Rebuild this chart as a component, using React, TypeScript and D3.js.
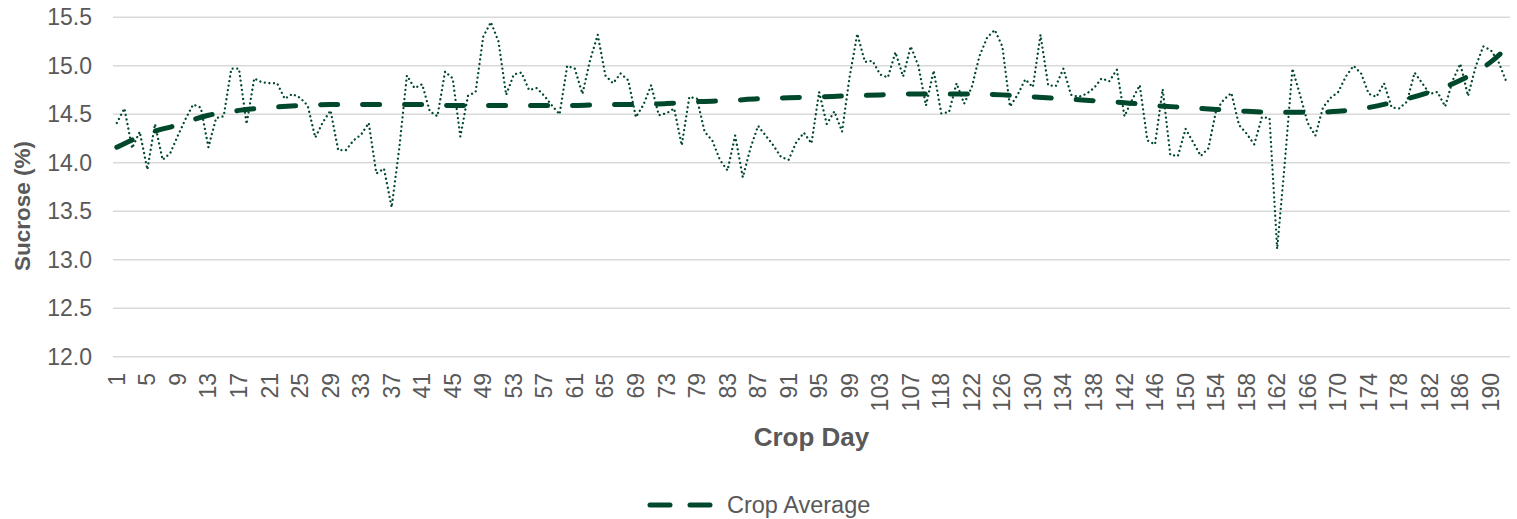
import React from 'react';
import * as d3 from 'd3';

// crop days on the x axis (the sheet skips a few days)
const days: number[] = [
  ...d3.range(1, 74), 74, 75, 76, ...d3.range(79, 108), 108, 109, 110, ...d3.range(118, 193),
];

// daily sucrose readings (%)
const sucrose = [
  14.41, 14.56, 14.15, 14.32, 13.93, 14.40, 14.03, 14.10, 14.28, 14.45,
  14.60, 14.57, 14.16, 14.46, 14.48, 14.97, 14.97, 14.40, 14.87, 14.83,
  14.82, 14.82, 14.66, 14.71, 14.67, 14.59, 14.26, 14.42, 14.54, 14.13,
  14.13, 14.23, 14.29, 14.41, 13.89, 13.94, 13.54, 14.15, 14.90, 14.77,
  14.81, 14.53, 14.48, 14.94, 14.87, 14.27, 14.69, 14.73, 15.30, 15.45,
  15.25, 14.70, 14.91, 14.93, 14.75, 14.77, 14.69, 14.59, 14.50, 15.00,
  14.97, 14.71, 15.06, 15.32, 14.90, 14.82, 14.92, 14.85, 14.47, 14.60,
  14.80, 14.49, 14.51, 14.56, 14.18, 14.68, 14.66, 14.32, 14.23, 14.03,
  13.92, 14.28, 13.85, 14.15, 14.38, 14.28, 14.18, 14.06, 14.03, 14.21,
  14.31, 14.20, 14.73, 14.40, 14.53, 14.32, 14.89, 15.33, 15.04, 15.05,
  14.91, 14.88, 15.14, 14.89, 15.20, 15.00, 14.59, 14.95, 14.51, 14.52,
  14.82, 14.61, 14.78, 15.10, 15.29, 15.37, 15.20, 14.58, 14.70, 14.86,
  14.78, 15.32, 14.80, 14.79, 14.97, 14.70, 14.68, 14.71, 14.77, 14.87,
  14.84, 14.96, 14.48, 14.65, 14.80, 14.23, 14.19, 14.76, 14.08, 14.07,
  14.35, 14.21, 14.07, 14.15, 14.54, 14.65, 14.72, 14.39, 14.30, 14.19,
  14.47, 14.46, 13.11, 14.00, 14.97, 14.70, 14.41, 14.28, 14.57, 14.67,
  14.73, 14.89, 15.00, 14.92, 14.71, 14.68, 14.82, 14.57, 14.56, 14.63,
  14.93, 14.82, 14.71, 14.73, 14.58, 14.85, 15.02, 14.69, 14.99, 15.20,
  15.16, 15.04, 14.84,
];

// crop average curve, read at every labelled day
const avgDays = [
  1, 5, 9, 13, 17, 21, 25, 29, 33, 37, 41, 45, 49, 53, 57, 61, 65, 69, 73,
  79, 83, 87, 91, 95, 99, 103, 107, 118, 122, 126, 130, 134, 138, 142, 146,
  150, 154, 158, 162, 166, 170, 174, 178, 182, 186, 190, 192,
];
const avgValues = [
  14.16, 14.30, 14.39, 14.49, 14.54, 14.57, 14.59, 14.60, 14.60, 14.60,
  14.60, 14.59, 14.59, 14.59, 14.59, 14.59, 14.60, 14.60, 14.61, 14.63,
  14.64, 14.66, 14.67, 14.68, 14.69, 14.70, 14.71, 14.71, 14.71, 14.70,
  14.68, 14.66, 14.64, 14.62, 14.59, 14.57, 14.55, 14.53, 14.52, 14.52,
  14.53, 14.57, 14.64, 14.73, 14.85, 15.04, 15.18,
];

const yTicks = [12, 12.5, 13, 13.5, 14, 14.5, 15, 15.5];

const green = '#00482b';
const grey = '#595959';
const font = 'Liberation Sans, Arial, sans-serif';

export default function App() {
  const W = 1517, H = 519;
  const left = 113, right = 1510, top = 17.3, bottom = 356.7;

  const x = d3.scaleBand<number>().domain(days).range([left, right]).padding(0);
  const cx = (d: number) => (x(d) as number) + x.bandwidth() / 2;
  const y = d3.scaleLinear().domain([12, 15.5]).range([bottom, top]);

  const rawLine = d3.line<number>()
    .x((_, i) => cx(days[i]))
    .y(d => y(d));

  const avgLine = d3.line<number>()
    .x((_, i) => cx(avgDays[i]))
    .y(d => y(d))
    .curve(d3.curveMonotoneX);

  const labelDays = days.filter((_, i) => i % 4 === 0);

  return (
    <div style={{ position: 'absolute', left: 0, top: 0 }}>
      <svg width={W} height={H} style={{ display: 'block', background: '#fff' }} fontFamily={font}>
        {yTicks.map(t => (
          <g key={t}>
            <line x1={left} x2={right} y1={y(t)} y2={y(t)} stroke="#d9d9d9" strokeWidth={1.5} />
            <text x={92} y={y(t)} dy="0.35em" textAnchor="end" fontSize={23} fill={grey}>
              {t.toFixed(1)}
            </text>
          </g>
        ))}

        {labelDays.map(d => (
          <text key={d} transform={`translate(${cx(d)},373) rotate(-90)`} dy="0.35em"
            textAnchor="end" fontSize={23} fill={grey}>
            {d}
          </text>
        ))}

        <path d={rawLine(sucrose) || ''} fill="none" stroke={green} strokeWidth={2.3}
          strokeDasharray="0.01 4.6" strokeLinecap="round" strokeLinejoin="round" />

        <path d={avgLine(avgValues) || ''} fill="none" stroke={green} strokeWidth={5}
          strokeDasharray="17 25" strokeLinecap="round" />

        <text transform="translate(22,206) rotate(-90)" dy="0.35em" textAnchor="middle"
          fontSize={22.5} fontWeight="bold" fill={grey}>Sucrose (%)</text>
        <text x={(left + right) / 2} y={437} dy="0.35em" textAnchor="middle"
          fontSize={26} fontWeight="bold" fill={grey}>Crop Day</text>

        <line x1={650} x2={714} y1={505} y2={505} stroke={green} strokeWidth={5}
          strokeDasharray="20 20" strokeLinecap="round" />
        <text x={727} y={505} dy="0.35em" fontSize={23.5} fill={grey}>Crop Average</text>
      </svg>
    </div>
  );
}
